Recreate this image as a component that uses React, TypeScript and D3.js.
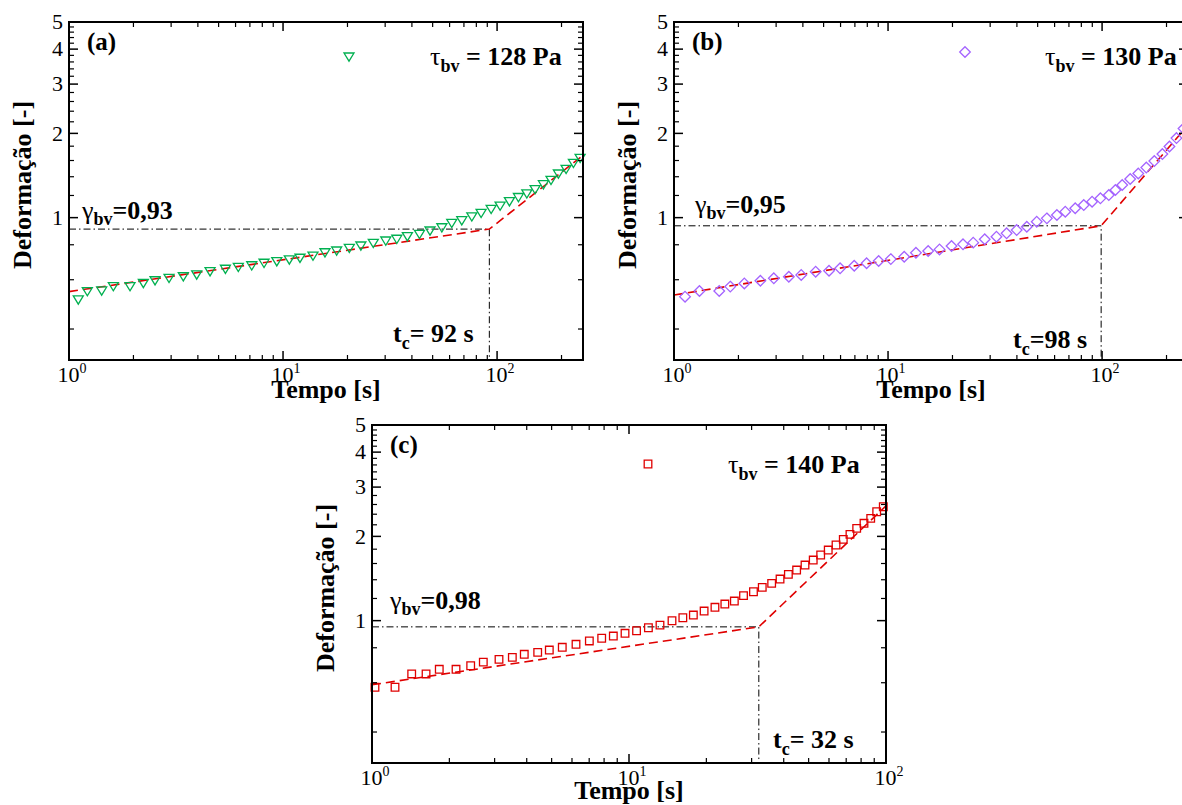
import React from 'react';
import * as d3 from 'd3';

// ---------- data ----------
const timeA = [1.105, 1.218, 1.421, 1.611, 1.928, 2.225, 2.523, 2.933, 3.42, 3.95, 4.56, 5.38, 6.18, 7.14, 8.15, 9.35, 10.7, 12.0, 13.8, 15.7, 17.8, 20.4, 23.1, 26.4, 30.2, 34.0, 38.1, 43.4, 48.6, 55.2, 61.4, 68.4, 76.2, 84.2, 93.8, 103.3, 114.2, 125.8, 137.7, 150.5, 164.6, 178.6, 193.4, 210.1, 227.3, 244.3];
const strainA = [0.508, 0.544, 0.547, 0.567, 0.567, 0.582, 0.595, 0.607, 0.615, 0.624, 0.641, 0.654, 0.664, 0.673, 0.687, 0.696, 0.706, 0.716, 0.729, 0.749, 0.760, 0.777, 0.792, 0.809, 0.825, 0.837, 0.855, 0.872, 0.896, 0.920, 0.954, 0.975, 1.007, 1.036, 1.071, 1.100, 1.140, 1.180, 1.216, 1.260, 1.311, 1.359, 1.432, 1.488, 1.563, 1.629];

const timeB = [1.126, 1.315, 1.627, 1.832, 2.131, 2.533, 2.926, 3.44, 3.93, 4.59, 5.30, 5.97, 6.95, 7.94, 9.04, 10.3, 11.9, 13.5, 15.4, 17.4, 19.8, 22.4, 25.0, 28.3, 32.1, 35.8, 39.9, 44.5, 49.5, 55.2, 61.5, 67.3, 74.9, 82.1, 89.8, 98.2, 107.5, 115.4, 124.2, 135.3, 147.6, 160.9, 175.4, 191.3, 206.4, 222.6, 240.1];
const strainB = [0.522, 0.547, 0.547, 0.567, 0.582, 0.595, 0.607, 0.615, 0.624, 0.641, 0.646, 0.659, 0.673, 0.687, 0.700, 0.711, 0.725, 0.749, 0.760, 0.770, 0.792, 0.803, 0.814, 0.837, 0.855, 0.879, 0.903, 0.928, 0.967, 0.994, 1.022, 1.050, 1.080, 1.109, 1.140, 1.172, 1.204, 1.255, 1.308, 1.374, 1.438, 1.510, 1.593, 1.687, 1.795, 1.924, 2.081];

const timeC = [1.027, 1.229, 1.427, 1.623, 1.827, 2.123, 2.421, 2.711, 3.12, 3.516, 3.913, 4.413, 4.897, 5.50, 6.22, 7.01, 7.83, 8.69, 9.65, 10.7, 11.9, 13.2, 14.7, 16.2, 17.8, 19.6, 21.6, 23.6, 25.7, 27.9, 30.5, 33.0, 35.9, 38.7, 41.7, 44.9, 48.4, 52.1, 55.7, 59.6, 63.9, 68.2, 72.4, 76.9, 82.1, 87.2, 92.0, 97.6];
const strainC = [0.578, 0.578, 0.645, 0.645, 0.670, 0.670, 0.690, 0.711, 0.727, 0.739, 0.758, 0.770, 0.785, 0.803, 0.823, 0.846, 0.865, 0.881, 0.901, 0.920, 0.943, 0.964, 0.999, 1.024, 1.047, 1.082, 1.116, 1.146, 1.175, 1.228, 1.268, 1.315, 1.359, 1.408, 1.463, 1.516, 1.580, 1.646, 1.716, 1.787, 1.863, 1.952, 2.034, 2.137, 2.227, 2.320, 2.449, 2.552];

// bilinear fits (red dashed)
const fitTimeA = [1, 92, 252];
const fitStrainA = [0.544, 0.91, 1.67];
const fitTimeB = [1, 99, 252];
const fitStrainB = [0.529, 0.935, 2.14];
const fitTimeC = [1, 32, 100];
const fitStrainC = [0.59, 0.95, 2.57];

// critical values
const gammaLevels = [0.91, 0.935, 0.95];
const tcValues = [92, 99, 32];
const gammaLabels = ['=0,93', '=0,95', '=0,98'];
const tcLabels = ['= 92 s', '=98 s', '= 32 s'];
const tauLabels = [' = 128 Pa', ' = 130 Pa', ' = 140 Pa'];
const panelLabels = ['(a)', '(b)', '(c)'];

// axes
const xDomains = [[1, 252], [1, 252], [1, 100]];
const yDomain = [0.31, 5];
const xMajorTicks = [1, 10, 100];
const xMinorTicks = [2, 3, 4, 5, 6, 7, 8, 9, 20, 30, 40, 50, 60, 70, 80, 90, 200];
const xTickExponents = ['0', '1', '2'];
const yMajorTicks = [1, 2, 3, 4, 5];
const yMinorTicks = [0.4, 0.6, 0.8, 1.2, 1.4, 1.6, 1.8, 2.2, 2.4, 2.6, 2.8, 3.2, 3.4, 3.6, 3.8, 4.2, 4.4, 4.6, 4.8];
const yTickLabels = ['1', '2', '3', '4', '5'];

const FONT = '"Liberation Serif", "Times New Roman", serif';
const RED = '#e00000';

type MarkerKind = 'tri' | 'dia' | 'sq';

function markerPath(kind: MarkerKind) {
  if (kind === 'tri') return 'M-5,-4L5,-4L0,4.2Z';
  if (kind === 'dia') return 'M0,-5.3L5.3,0L0,5.3L-5.3,0Z';
  return 'M-3.8,-3.8L3.8,-3.8L3.8,3.8L-3.8,3.8Z';
}

type PanelProps = {
  idx: number;
  x0: number;
  y0: number;
  w: number;
  h: number;
  t: number[];
  s: number[];
  fitT: number[];
  fitS: number[];
  marker: MarkerKind;
  color: string;
  legendPos: [number, number];
  tauPos: [number, number];
  gammaPos: [number, number];
  tcPos: [number, number];
  titleDy: number;
};

function Panel(p: PanelProps) {
  const x = d3.scaleLog().domain(xDomains[p.idx]).range([0, p.w]);
  const y = d3.scaleLog().domain(yDomain).range([p.h, 0]);
  const line = d3
    .line<number>()
    .x((_, i) => x(p.fitT[i]))
    .y((d) => y(d));
  const gamma = gammaLevels[p.idx];
  const tc = tcValues[p.idx];
  const xMaj = xMajorTicks.filter((v) => v >= xDomains[p.idx][0] && v <= xDomains[p.idx][1]);
  const xMin = xMinorTicks.filter((v) => v <= xDomains[p.idx][1]);
  const mp = markerPath(p.marker);
  const majL = 9;
  const minL = 5;
  return (
    <g transform={`translate(${p.x0},${p.y0})`} fontFamily={FONT}>
      {/* reference dash-dot lines */}
      <path
        d={`M0,${y(gamma)}H${x(tc)}V${p.h}`}
        fill="none"
        stroke="#000"
        strokeWidth={1}
        strokeDasharray="7,3,1.5,3"
      />
      {/* fit */}
      <path d={line(p.fitS) || ''} fill="none" stroke={RED} strokeWidth={1.6} strokeDasharray="9,5" />
      {/* data */}
      {p.t.map((tv, i) => (
        <path
          key={i}
          d={mp}
          transform={`translate(${x(tv)},${y(p.s[i])})`}
          fill="none"
          stroke={p.color}
          strokeWidth={1.3}
        />
      ))}
      {/* ticks */}
      {xMaj.map((v) => (
        <g key={'xM' + v}>
          <line x1={x(v)} x2={x(v)} y1={p.h} y2={p.h - majL} stroke="#000" strokeWidth={1.5} />
          <line x1={x(v)} x2={x(v)} y1={0} y2={majL} stroke="#000" strokeWidth={1.5} />
        </g>
      ))}
      {xMin.map((v) => (
        <g key={'xm' + v}>
          <line x1={x(v)} x2={x(v)} y1={p.h} y2={p.h - minL} stroke="#000" strokeWidth={1.2} />
          <line x1={x(v)} x2={x(v)} y1={0} y2={minL} stroke="#000" strokeWidth={1.2} />
        </g>
      ))}
      {yMajorTicks.map((v) => (
        <g key={'yM' + v}>
          <line x1={0} x2={majL} y1={y(v)} y2={y(v)} stroke="#000" strokeWidth={1.5} />
          <line x1={p.w} x2={p.w - majL} y1={y(v)} y2={y(v)} stroke="#000" strokeWidth={1.5} />
        </g>
      ))}
      {yMinorTicks.map((v) => (
        <g key={'ym' + v}>
          <line x1={0} x2={minL} y1={y(v)} y2={y(v)} stroke="#000" strokeWidth={1.2} />
          <line x1={p.w} x2={p.w - minL} y1={y(v)} y2={y(v)} stroke="#000" strokeWidth={1.2} />
        </g>
      ))}
      {/* frame */}
      <rect x={0} y={0} width={p.w} height={p.h} fill="none" stroke="#000" strokeWidth={2} />
      {/* tick labels */}
      {xMaj.map((v) => (
        <text key={'xl' + v} x={x(v) + 3} y={p.h + 22} fontSize={22} textAnchor="middle">
          10
          <tspan fontSize={14} dy={-9}>
            {xTickExponents[xMajorTicks.indexOf(v)]}
          </tspan>
        </text>
      ))}
      {yMajorTicks.map((v, i) => (
        <text key={'yl' + v} x={-6} y={y(v)} dy="0.33em" fontSize={22} textAnchor="end">
          {yTickLabels[i]}
        </text>
      ))}
      {/* axis titles */}
      <text x={p.w / 2} y={p.h + p.titleDy} fontSize={26} fontWeight="bold" textAnchor="middle">
        Tempo [s]
      </text>
      <text
        transform={`translate(-47,${p.h / 2 - 6}) rotate(-90)`}
        fontSize={26}
        fontWeight="bold"
        textAnchor="middle"
        dy="0.35em"
      >
        Deformação [-]
      </text>
      {/* panel label */}
      <text x={18} y={28} fontSize={25} fontWeight="bold">
        {panelLabels[p.idx]}
      </text>
      {/* legend */}
      <path d={mp} transform={`translate(${p.legendPos[0]},${p.legendPos[1]})`} fill="none" stroke={p.color} strokeWidth={1.3} />
      <text x={p.tauPos[0]} y={p.tauPos[1]} fontSize={26} fontWeight="bold">
        <tspan fontWeight="normal">τ</tspan>
        <tspan fontSize={18} dy={7}>bv</tspan>
        <tspan dy={-7}>{tauLabels[p.idx]}</tspan>
      </text>
      <text x={p.gammaPos[0]} y={p.gammaPos[1]} fontSize={26} fontWeight="bold">
        <tspan fontWeight="normal">γ</tspan>
        <tspan fontSize={18} dy={6}>bv</tspan>
        <tspan dy={-6}>{gammaLabels[p.idx]}</tspan>
      </text>
      <text x={p.tcPos[0]} y={p.tcPos[1]} fontSize={26} fontWeight="bold">
        t<tspan fontSize={18} dy={7}>c</tspan>
        <tspan dy={-7}>{tcLabels[p.idx]}</tspan>
      </text>
    </g>
  );
}

export default function App() {
  return (
    <svg
      width={1182}
      height={805}
      style={{ position: 'absolute', left: 0, top: 0, background: '#fff' }}
    >
      <rect width={1182} height={805} fill="#fff" />
      <Panel
        idx={0}
        x0={69}
        y0={22}
        w={514}
        h={338}
        t={timeA}
        s={strainA}
        fitT={fitTimeA}
        fitS={fitStrainA}
        marker="tri"
        color="#00b050"
        legendPos={[280, 35]}
        tauPos={[361, 43]}
        gammaPos={[13, 197]}
        tcPos={[324, 320]}
        titleDy={38}
      />
      <Panel
        idx={1}
        x0={674}
        y0={22}
        w={514}
        h={338}
        t={timeB}
        s={strainB}
        fitT={fitTimeB}
        fitS={fitStrainB}
        marker="dia"
        color="#a463ff"
        legendPos={[291, 30]}
        tauPos={[371, 43]}
        gammaPos={[21, 191]}
        tcPos={[339, 326]}
        titleDy={38}
      />
      <Panel
        idx={2}
        x0={372}
        y0={425}
        w={514}
        h={338}
        t={timeC}
        s={strainC}
        fitT={fitTimeC}
        fitS={fitStrainC}
        marker="sq"
        color="#e00000"
        legendPos={[276, 39]}
        tauPos={[356, 48]}
        gammaPos={[18, 184]}
        tcPos={[401, 323]}
        titleDy={36}
      />
    </svg>
  );
}
